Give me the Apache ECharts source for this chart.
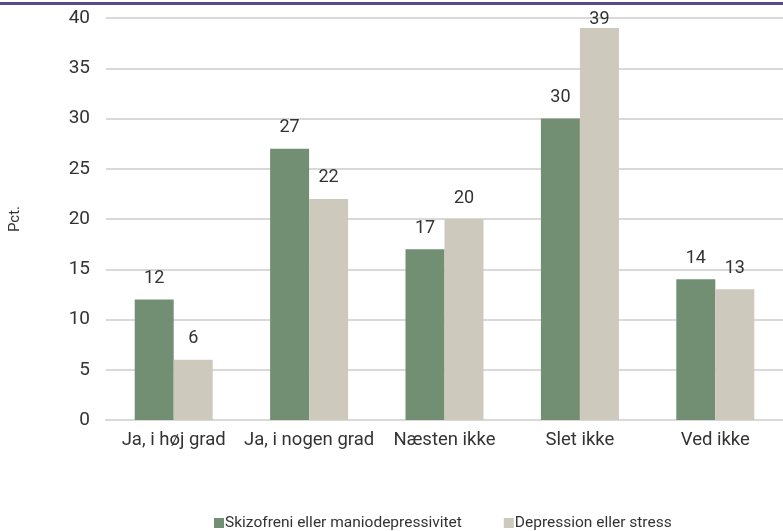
<!DOCTYPE html>
<html>
<head>
<meta charset="utf-8">
<script src="https://cdn.jsdelivr.net/npm/echarts@6/dist/echarts.min.js"></script>
<style>
  html, body { margin: 0; padding: 0; background: #fff; }
  #chart { width: 783px; height: 531px; }
  #topline { position: absolute; left: 0; top: 2px; width: 783px; height: 3px; background: #5b4a8a; z-index: 2; }
</style>
</head>
<body>
<div id="topline"></div>
<div id="chart"></div>
<script>
  const categories = ['Ja, i høj grad', 'Ja, i nogen grad', 'Næsten ikke', 'Slet ikke', 'Ved ikke']
  const seriesNames = ['Skizofreni eller maniodepressivitet', 'Depression eller stress']
  const skizofreni = [12, 27, 17, 30, 14]
  const depression = [6, 22, 20, 39, 13]
  const colors = ['#738f73', '#cdc9bd']

  let myChart = echarts.init(document.getElementById('chart'))
  const font = 'Roboto, "Noto Sans", sans-serif'
  const mkSeries = (name, data, color) => ({
    name: name,
    type: 'bar',
    data: data,
    barWidth: 39,
    barGap: '0%',
    itemStyle: { color: color },
    label: {
      show: true,
      position: 'top',
      distance: 12,
      color: '#333',
      fontSize: 18,
      fontFamily: font
    },
    // keep labels from going under the top line
    labelLayout: p => p.labelRect.y < 10
      ? { x: p.rect.x + p.rect.width / 2, y: 19, align: 'center', verticalAlign: 'middle' }
      : {}
  })
  myChart.setOption({
    animation: false,
    textStyle: { fontFamily: font },
    grid: { left: 99, top: 18, width: 689, height: 402, containLabel: false },
    xAxis: {
      type: 'category',
      data: categories,
      axisTick: { show: false },
      axisLine: { lineStyle: { color: '#d9d9d9', width: 2 } },
      axisLabel: { color: '#333', fontSize: 18.5, margin: 11, interval: 0 }
    },
    yAxis: {
      type: 'value',
      min: 0,
      max: 40,
      interval: 5,
      name: 'Pct.',
      nameLocation: 'middle',
      nameGap: 83,
      nameRotate: 90,
      nameTextStyle: { color: '#333', fontSize: 15 },
      axisLabel: { color: '#333', fontSize: 19, margin: 16 },
      splitLine: { lineStyle: { color: '#d9d9d9', width: 2 } }
    },
    legend: {
      top: 510,
      left: 209,
      itemWidth: 10,
      itemHeight: 10,
      itemGap: 42,
      icon: 'rect',
      textStyle: { color: '#333', fontSize: 15.5, padding: [0, 0, 0, -4] },
      data: seriesNames
    },
    series: [
      mkSeries(seriesNames[0], skizofreni, colors[0]),
      mkSeries(seriesNames[1], depression, colors[1])
    ]
  })
</script>
</body>
</html>
